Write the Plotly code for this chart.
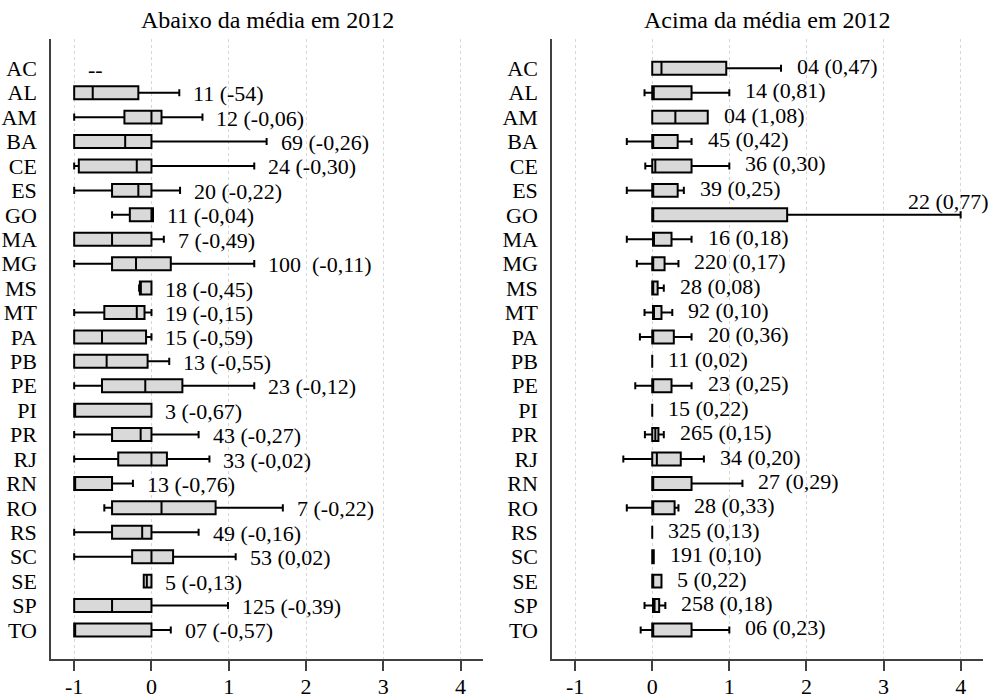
import plotly.graph_objects as go

states = ["AC", "AL", "AM", "BA", "CE", "ES", "GO", "MA", "MG", "MS", "MT", "PA",
          "PB", "PE", "PI", "PR", "RJ", "RN", "RO", "RS", "SC", "SE", "SP", "TO"]

# ---- Left panel: "Abaixo da média em 2012" (AC has no data) ----
left_states = states[1:]
left_lower = [-1.0, -1.0, -1.0, -1.0, -1.0, -0.51, -1.0, -1.0, -0.16, -1.0, -1.0,
              -1.0, -1.0, -1.0, -1.0, -1.0, -1.0, -0.61, -1.0, -1.0, -0.10, -1.0, -1.0]
left_q1 = [-1.0, -0.35, -1.0, -0.94, -0.51, -0.28, -1.0, -0.51, -0.15, -0.61, -1.0,
           -1.0, -0.64, -1.0, -0.51, -0.43, -1.0, -0.51, -0.51, -0.25, -0.10, -1.0, -1.0]
left_median = [-0.76, 0.0, -0.34, -0.19, -0.17, 0.0, -0.51, -0.20, -0.15, -0.19, -0.64,
               -0.58, -0.08, -1.0, -0.14, 0.0, -1.0, 0.13, -0.12, 0.0, -0.06, -0.51, -1.0]
left_q3 = [-0.17, 0.13, 0.0, 0.0, 0.0, 0.02, 0.0, 0.25, 0.0, -0.09, -0.07,
           -0.05, 0.40, 0.0, 0.0, 0.20, -0.51, 0.83, 0.0, 0.28, 0.0, 0.0, 0.0]
left_upper = [0.36, 0.66, 1.49, 1.33, 0.37, 0.02, 0.16, 1.33, 0.0, 0.0, 0.0,
              0.23, 1.33, 0.0, 0.61, 0.75, -0.24, 1.70, 0.61, 1.09, 0.0, 0.99, 0.25]
left_labels = ["--", "11 (-54)", "12 (-0,06)", "69 (-0,26)", "24 (-0,30)", "20 (-0,22)",
               "11 (-0,04)", "7 (-0,49)", "100\u00a0 (-0,11)", "18 (-0,45)", "19 (-0,15)",
               "15 (-0,59)", "13 (-0,55)", "23 (-0,12)", "3 (-0,67)", "43 (-0,27)",
               "33 (-0,02)", "13 (-0,76)", "7 (-0,22)", "49 (-0,16)", "53 (0,02)",
               "5 (-0,13)", "125 (-0,39)", "07 (-0,57)"]

# ---- Right panel: "Acima da média em 2012" ----
right_lower = [0.0, -0.10, 0.0, -0.33, -0.09, -0.33, 0.0, -0.33, -0.20, 0.0, -0.10, -0.16,
               0.0, -0.22, 0.0, -0.095, -0.375, 0.0, -0.33, 0.0, 0.0, 0.0, -0.10, -0.15]
right_q1 = [0.0, 0.0, 0.0, 0.0, 0.0, 0.0, 0.0, 0.01, 0.0, 0.0, 0.01, 0.0,
            0.0, 0.0, 0.0, 0.0, 0.0, 0.0, 0.0, 0.0, 0.0, 0.0, 0.01, 0.0]
right_median = [0.12, 0.02, 0.30, 0.0, 0.04, 0.0, 0.0, 0.01, 0.0, 0.0, 0.01, 0.0,
                0.0, 0.0, 0.0, 0.04, 0.06, 0.0, 0.0, 0.0, 0.0, 0.0, 0.03, 0.0]
right_q3 = [0.96, 0.51, 0.72, 0.33, 0.51, 0.33, 1.75, 0.25, 0.16, 0.07, 0.12, 0.28,
            0.0, 0.25, 0.0, 0.08, 0.37, 0.51, 0.29, 0.0, 0.02, 0.12, 0.09, 0.51]
right_upper = [1.67, 1.0, 0.72, 0.51, 1.0, 0.41, 4.0, 0.51, 0.34, 0.15, 0.26, 0.51,
               0.0, 0.51, 0.0, 0.15, 0.67, 1.17, 0.34, 0.0, 0.02, 0.12, 0.17, 1.0]
right_labels = ["04 (0,47)", "14 (0,81)", "04 (1,08)", "45 (0,42)", "36 (0,30)", "39 (0,25)",
                "22 (0,77)", "16 (0,18)", "220 (0,17)", "28 (0,08)", "92 (0,10)", "20 (0,36)",
                "11 (0,02)", "23 (0,25)", "15 (0,22)", "265 (0,15)", "34 (0,20)", "27 (0,29)",
                "28 (0,33)", "325 (0,13)", "191 (0,10)", "5 (0,22)", "258 (0,18)", "06 (0,23)"]

x_ticks = [-1, 0, 1, 2, 3, 4]
titles = ["Abaixo da média em 2012", "Acima da média em 2012"]

FONT = "Liberation Serif"
BOX_FILL = "#d9d9d9"

fig = go.Figure()

box_style = dict(orientation="h", fillcolor=BOX_FILL, width=0.53, whiskerwidth=0.55,
                 line=dict(color="black", width=2), boxpoints=False,
                 hoverinfo="skip", showlegend=False)

fig.add_trace(go.Box(y=left_states, q1=left_q1, median=left_median, q3=left_q3,
                     lowerfence=left_lower, upperfence=left_upper,
                     xaxis="x", yaxis="y", **box_style))
fig.add_trace(go.Box(y=states, q1=right_q1, median=right_median, q3=right_q3,
                     lowerfence=right_lower, upperfence=right_upper,
                     xaxis="x2", yaxis="y2", **box_style))

annotations = []
label_font = dict(family=FONT, size=22, color="black")
# left labels
left_upper_full = [None] + left_upper
left_min = min(left_lower)
for s, up, lab in zip(states, left_upper_full, left_labels):
    xpos = left_min if up is None else up
    annotations.append(dict(x=xpos, y=s, xref="x", yref="y", text=lab, showarrow=False,
                            xanchor="left", yanchor="middle", xshift=12, yshift=-1,
                            font=label_font))
# right labels
for s, up, lab in zip(states, right_upper, right_labels):
    if up >= 3.5:
        annotations.append(dict(x=up, y=s, xref="x2", yref="y2", text=lab, showarrow=False,
                                xanchor="right", yanchor="middle", xshift=30, yshift=13,
                                font=label_font))
    else:
        annotations.append(dict(x=up, y=s, xref="x2", yref="y2", text=lab, showarrow=False,
                                xanchor="left", yanchor="middle", xshift=14, yshift=2,
                                font=label_font))

# titles
dom_left = [51 / 994, 483 / 994]
dom_right = [552 / 994, 983 / 994]
for dom, t in zip([dom_left, dom_right], titles):
    annotations.append(dict(x=(dom[0] + dom[1]) / 2, y=1 - 20 / 695, xref="paper", yref="paper",
                            text=t, showarrow=False, xanchor="center", yanchor="middle",
                            font=dict(family=FONT, size=24, color="black")))

ydom = [(695 - 659) / 695, (695 - 39) / 695]
yrange = [24.19, -1.2]

xaxis_style = dict(range=[-1.3, 4.29], tickmode="array", tickvals=x_ticks,
                   ticktext=[str(v) for v in x_ticks],
                   showgrid=True, gridcolor="#d6d6d6", griddash="dot", gridwidth=1,
                   showline=True, linecolor="#404040", linewidth=1.5,
                   ticks="outside", ticklen=10, tickcolor="#404040", tickwidth=1.5,
                   ticklabelstandoff=-3,
                   zeroline=False, fixedrange=True, automargin=False,
                   tickfont=dict(family=FONT, size=22, color="black"))
yaxis_style = dict(type="category", categoryorder="array", categoryarray=states,
                   tickmode="array", tickvals=states, ticktext=states,
                   range=yrange, showgrid=False, showline=True, linecolor="#404040",
                   linewidth=1.5, ticks="", ticklabelstandoff=8, zeroline=False,
                   automargin=False, fixedrange=True,
                   tickfont=dict(family=FONT, size=22, color="black"), domain=ydom)

fig.update_layout(
    width=994, height=695,
    margin=dict(l=0, r=0, t=0, b=0, autoexpand=False),
    paper_bgcolor="white", plot_bgcolor="white",
    xaxis=dict(domain=dom_left, anchor="y", **xaxis_style),
    yaxis=dict(anchor="x", **yaxis_style),
    xaxis2=dict(domain=dom_right, anchor="y2", **xaxis_style),
    yaxis2=dict(anchor="x2", **yaxis_style),
    annotations=annotations,
    showlegend=False,
)

fig.write_html("out.html", config={"displayModeBar": False},
               post_script="document.body.style.margin='0';document.body.style.padding='0';"
                           "document.body.style.overflow='hidden';")
